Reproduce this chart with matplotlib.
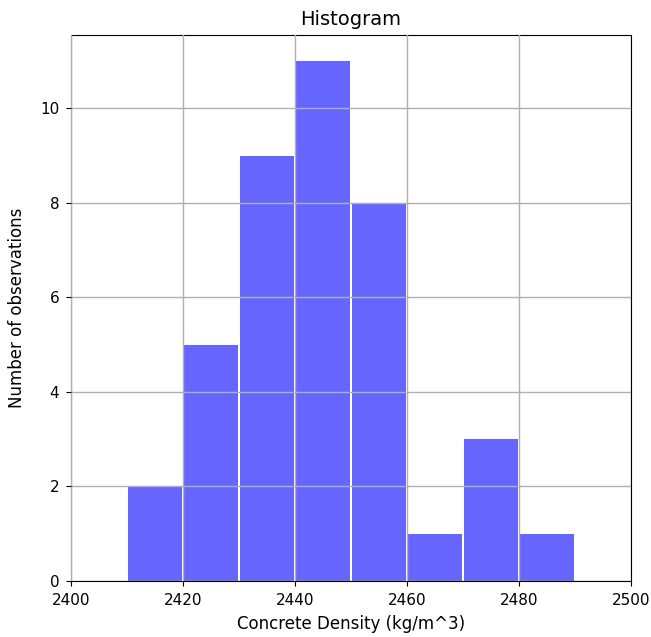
import numpy as np
import matplotlib
matplotlib.use('Agg')
import matplotlib.pyplot as plt

# bin edges and counts
bin_edges = [2410, 2420, 2430, 2440, 2450, 2460, 2470, 2480, 2490]
counts = [2, 5, 9, 11, 8, 1, 3, 1]

centers = [(a + b) / 2 for a, b in zip(bin_edges[:-1], bin_edges[1:])]

fig = plt.figure(figsize=(6.51, 6.37), dpi=100)
ax = fig.add_axes([71 / 651, 56 / 637, 560 / 651, 546 / 637])

ax.hist(centers, bins=bin_edges, weights=counts, color='blue', alpha=0.6, rwidth=0.95)

ax.grid(True, color='#b0b0b0', linewidth=1)
ax.set_axisbelow(False)
ax.set_xlim(2400, 2500)
ax.set_ylim(0, 11.55)
ax.tick_params(labelsize=11, pad=5)
ax.set_title('Histogram', fontsize=14, pad=7)
ax.set_xlabel('Concrete Density (kg/m^3)', fontsize=12, labelpad=5)
ax.set_ylabel('Number of observations', fontsize=12, labelpad=10)

plt.savefig('out.png', dpi=100)
plt.close(fig)
